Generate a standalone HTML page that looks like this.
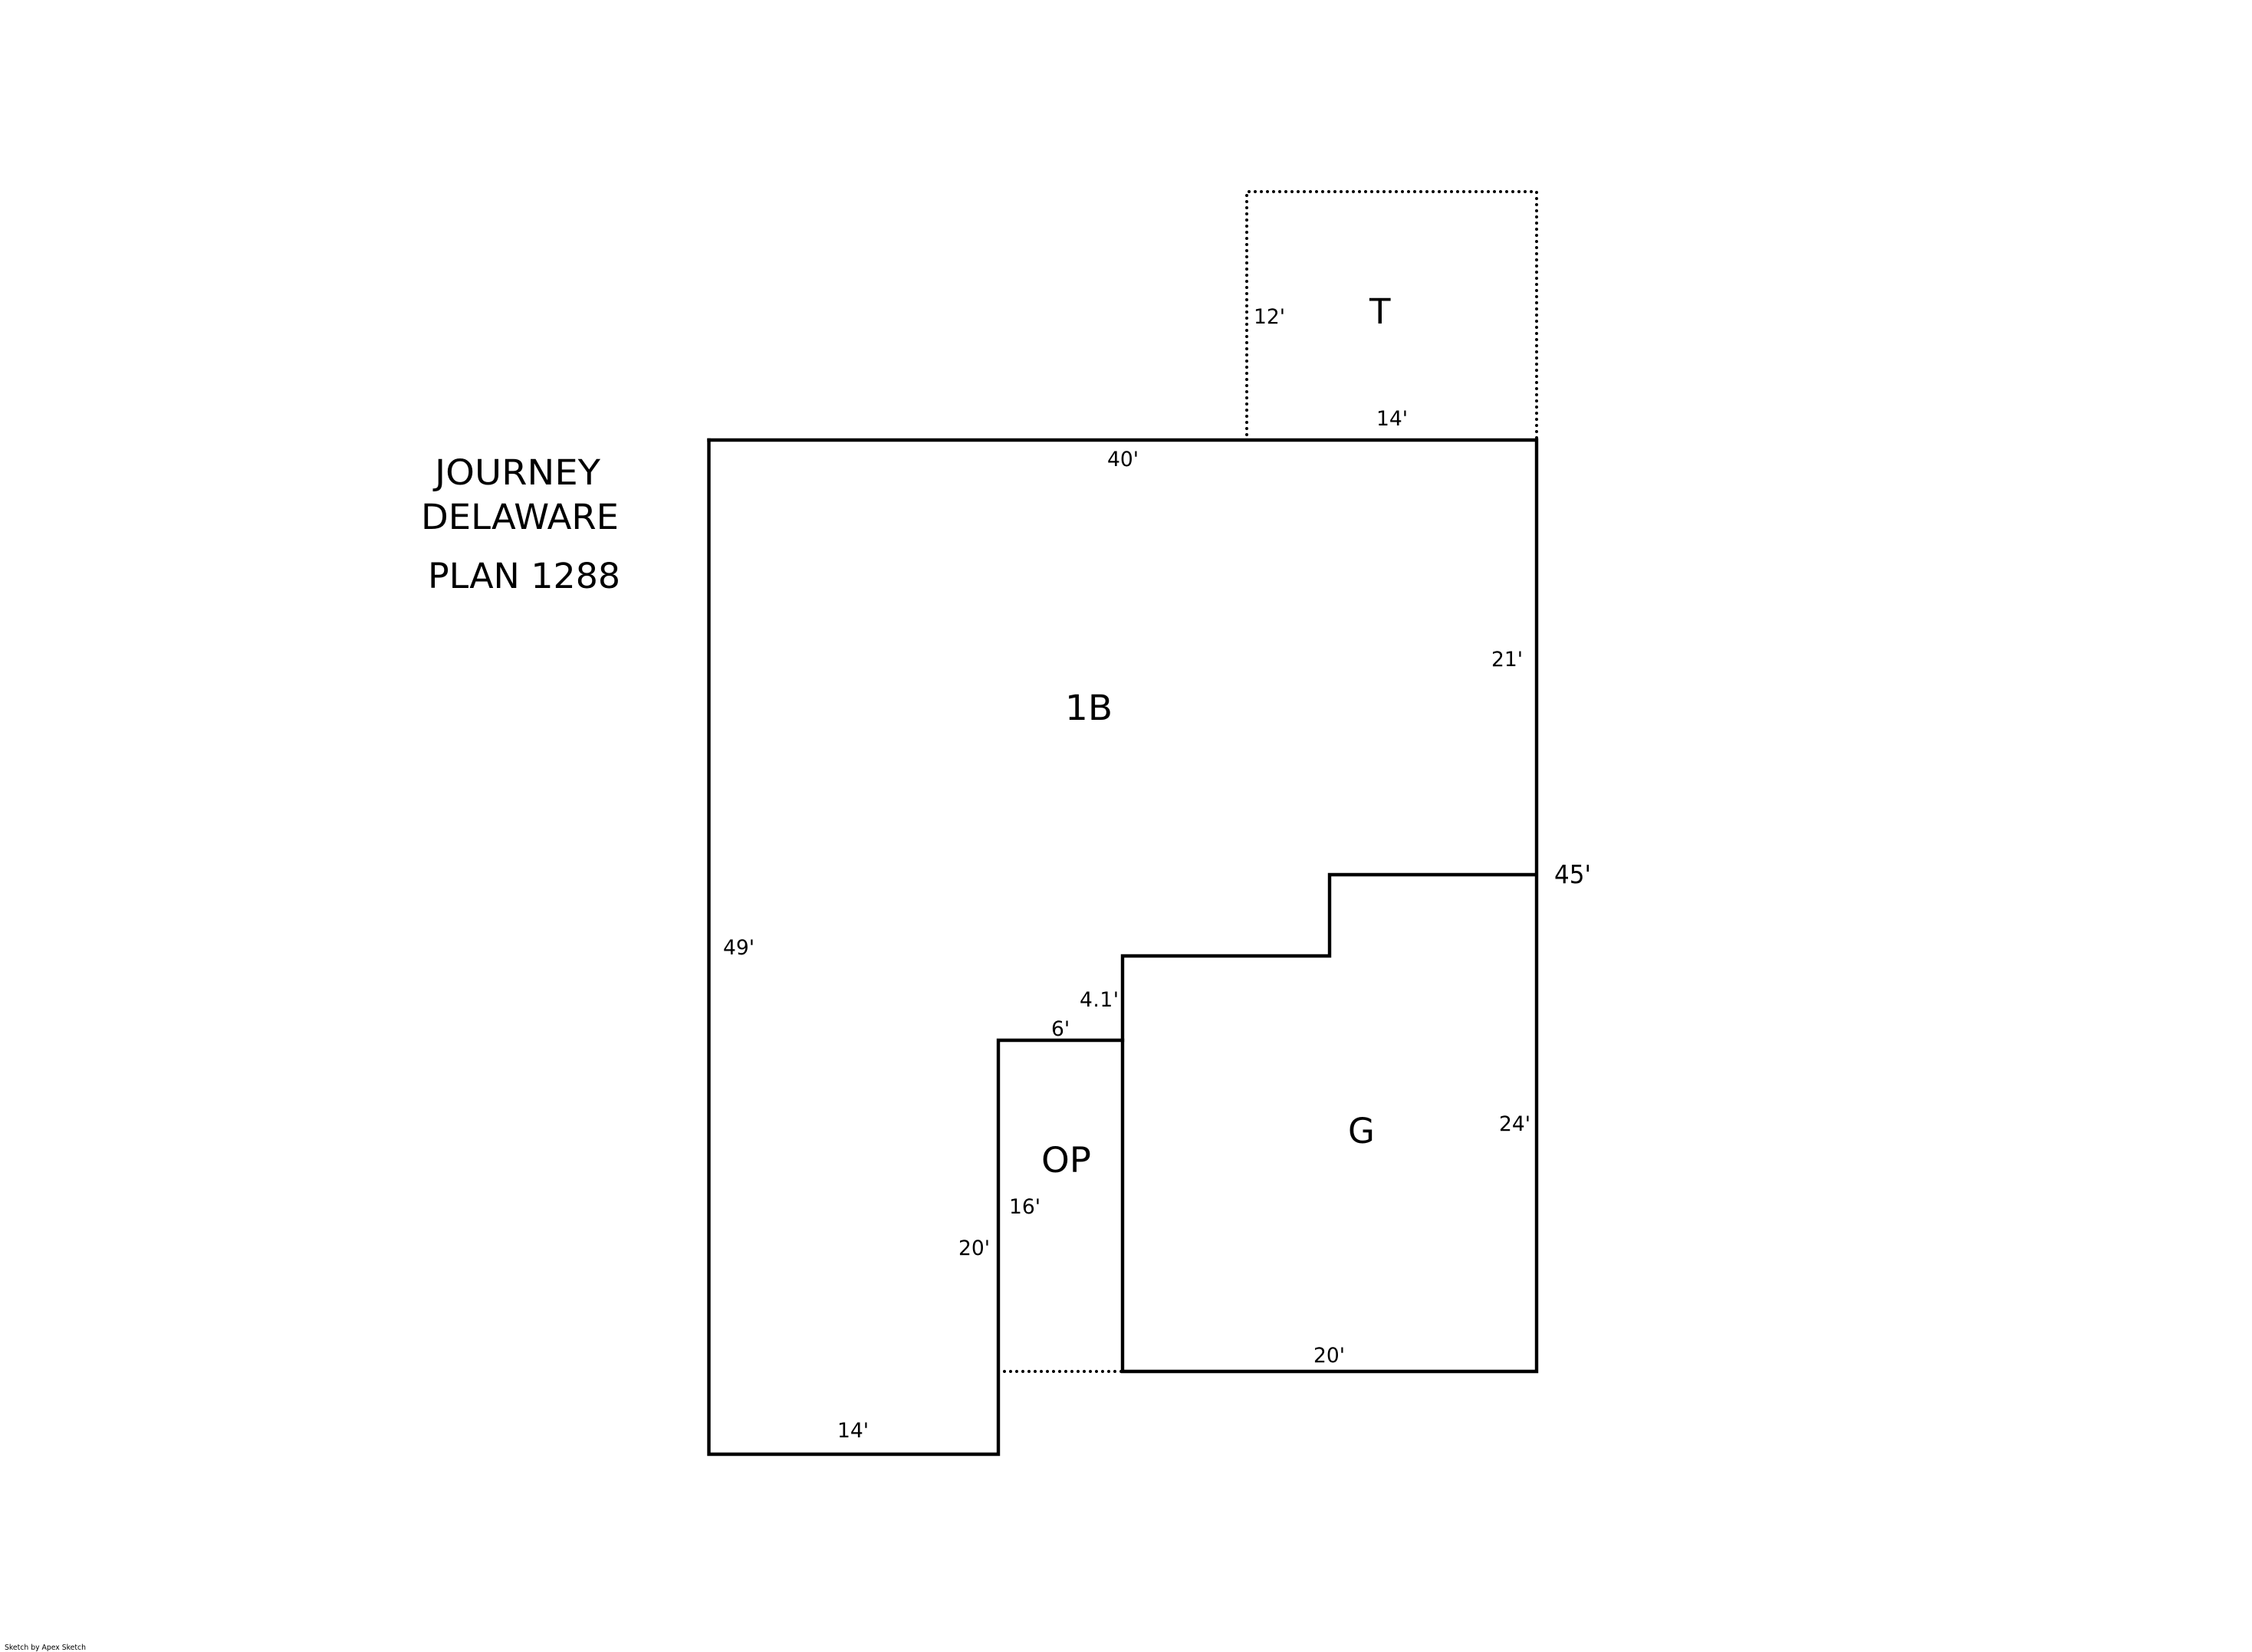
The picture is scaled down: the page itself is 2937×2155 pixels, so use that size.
<!DOCTYPE html>
<html><head><meta charset="utf-8"><style>
html,body{margin:0;padding:0;background:#fff;width:2937px;height:2155px;overflow:hidden}
svg{display:block}
text{font-family:"DejaVu Sans","Liberation Sans",sans-serif;fill:#000}
.d{font-size:26.5px}.l{font-size:45px}
</style></head><body>
<svg width="2937" height="2155" viewBox="0 0 2937 2155" xmlns="http://www.w3.org/2000/svg">
<rect width="2937" height="2155" fill="#fff"/>
<g fill="none" stroke="#000" stroke-width="4.4" stroke-linejoin="miter" stroke-linecap="square">
<path d="M924.5 574H2004V1789H1464V1247H1734V1141H2004"/>
<path d="M924.5 574V1897H1302V1357H1464"/>
</g>
<g fill="none" stroke="#000" stroke-width="4" stroke-linecap="round" stroke-dasharray="0 8">
<path d="M1626 567V250H2004V573"/>
<path d="M1310 1789H1464"/>
</g>
<text class="l" x="567" y="632" textLength="216" lengthAdjust="spacingAndGlyphs">JOURNEY</text>
<text class="l" x="549" y="690" textLength="258" lengthAdjust="spacingAndGlyphs">DELAWARE</text>
<text class="l" x="558" y="767" textLength="251" lengthAdjust="spacingAndGlyphs">PLAN 1288</text>
<text class="l" x="1786" y="422">T</text>
<text class="l" x="1389" y="939" textLength="62" lengthAdjust="spacingAndGlyphs">1B</text>
<text class="l" x="1358" y="1529" textLength="65" lengthAdjust="spacingAndGlyphs">OP</text>
<text class="l" x="1758" y="1491">G</text>
<text class="d" x="1635" y="422">12'</text>
<text class="d" x="1795" y="555">14'</text>
<text class="d" x="1444" y="608">40'</text>
<text class="d" x="1945" y="869">21'</text>
<text x="2027" y="1152" style="font-size:33px" textLength="48" lengthAdjust="spacingAndGlyphs">45'</text>
<text class="d" x="943" y="1245">49'</text>
<text class="d" x="1408" y="1313" textLength="51" lengthAdjust="spacing">4.1'</text>
<text class="d" x="1371" y="1351">6'</text>
<text class="d" x="1955" y="1475">24'</text>
<text class="d" x="1316" y="1583">16'</text>
<text class="d" x="1250" y="1637">20'</text>
<text class="d" x="1713" y="1777">20'</text>
<text class="d" x="1092" y="1875">14'</text>
<text x="6" y="2152" style="font-size:10px" textLength="106" lengthAdjust="spacingAndGlyphs">Sketch by Apex Sketch</text>
</svg>
</body></html>
